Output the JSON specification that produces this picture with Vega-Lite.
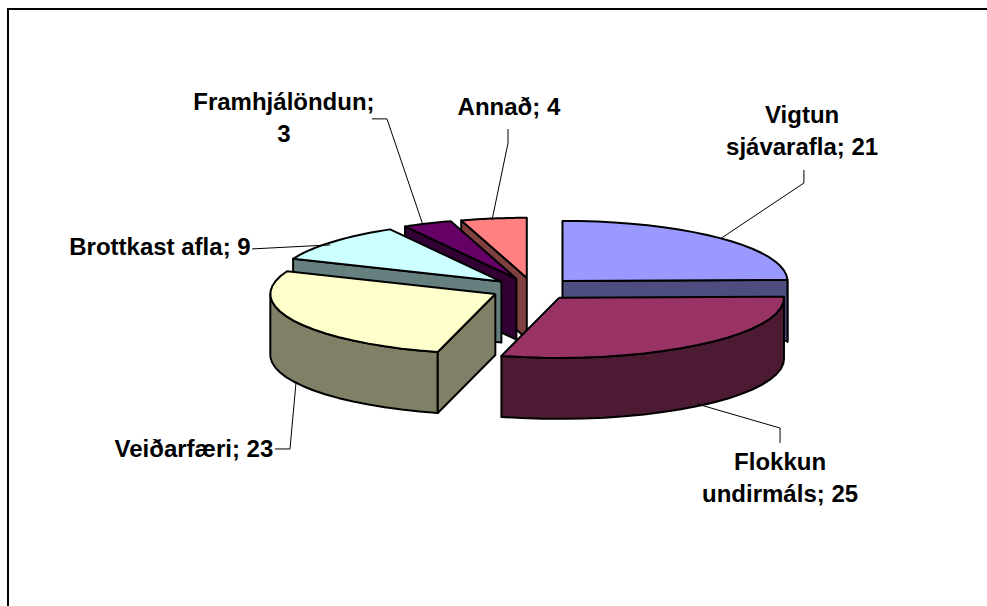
{
"$schema":"https://vega.github.io/schema/vega-lite/v6.json",
"description":"Exploded, tilted pie: slice angles come from the value column; tilt, depth and explosion are constants of the projection into pie-radius units.",
"autosize":{"type":"none"},
"padding":{"left":8,"top":9,"right":0,"bottom":0},
"width":1000,"height":700,
"background":"white",
"view":{"stroke":"black","strokeWidth":2,"fill":"white"},
"datasets":{
"slices":[
{"slice":"Annað","value":4,"clockwise":6},
{"slice":"Framhjálöndun","value":3,"clockwise":5},
{"slice":"Brottkast afla","value":9,"clockwise":4},
{"slice":"Vigtun sjávarafla","value":21,"clockwise":1},
{"slice":"Veiðarfæri","value":23,"clockwise":3},
{"slice":"Flokkun undirmáls","value":25,"clockwise":2}
],
"leaders":[
{"slice":"Vigtun sjávarafla","step":0,"u":1.204,"v":0.529},{"slice":"Vigtun sjávarafla","step":1,"u":1.204,"v":0.471},{"slice":"Vigtun sjávarafla","step":2,"u":0.831,"v":0.222},
{"slice":"Flokkun undirmáls","step":0,"u":1.098,"v":-0.684},{"slice":"Flokkun undirmáls","step":1,"u":1.098,"v":-0.618},{"slice":"Flokkun undirmáls","step":2,"u":0.729,"v":-0.511},
{"slice":"Veiðarfæri","step":0,"u":-1.147,"v":-0.711},{"slice":"Veiðarfæri","step":1,"u":-1.08,"v":-0.711},{"slice":"Veiðarfæri","step":2,"u":-1.053,"v":-0.413},
{"slice":"Brottkast afla","step":0,"u":-1.249,"v":0.178},{"slice":"Brottkast afla","step":1,"u":-0.902,"v":0.196},
{"slice":"Framhjálöndun","step":0,"u":-0.716,"v":0.756},{"slice":"Framhjálöndun","step":1,"u":-0.649,"v":0.756},{"slice":"Framhjálöndun","step":2,"u":-0.489,"v":0.284},
{"slice":"Annað","step":0,"u":-0.111,"v":0.711},{"slice":"Annað","step":1,"u":-0.111,"v":0.649},{"slice":"Annað","step":2,"u":-0.182,"v":0.307}
],
"labels":[
{"text":["Vigtun","sjávarafla; 21"],"u":1.196,"v":0.769},
{"text":["Flokkun","undirmáls; 25"],"u":1.098,"v":-0.773},
{"text":["Veiðarfæri; 23"],"u":-1.507,"v":-0.716},
{"text":["Brottkast afla; 9"],"u":-1.658,"v":0.183},
{"text":["Framhjálöndun;","3"],"u":-1.107,"v":0.827},
{"text":["Annað; 4"],"u":-0.107,"v":0.805}
]
},
"resolve":{"scale":{"x":"shared","y":"shared"}},
"encoding":{
"x":{"field":"u","type":"quantitative","scale":{"domain":[-2.3333,2.1111],"nice":false,"zero":false},"axis":null},
"y":{"field":"v","type":"quantitative","scale":{"domain":[-1.8667,1.2444],"nice":false,"zero":false},"axis":null}
},
"layer":[
{
"data":{"name":"slices"},
"transform":[
{"joinaggregate":[{"op":"sum","field":"value","as":"total"}]},
{"window":[{"op":"sum","field":"value","as":"cum"}],"sort":[{"field":"clockwise","order":"ascending"}],"frame":[null,0]},
{"calculate":"(datum.cum-datum.value)/datum.total*2*PI","as":"a0"},
{"calculate":"datum.cum/datum.total*2*PI","as":"a1"},
{"calculate":"(datum.a0+datum.a1)/2","as":"mid"},
{"calculate":"['rim','start','end','top']","as":"face"},
{"flatten":["face"]},
{"filter":"datum.face=='top'||(datum.face=='rim'&&datum.a0<1.5*PI)||(datum.face=='start'&&sin(datum.a0)<-0.001)||(datum.face=='end'&&sin(datum.a1)>0.001)"},
{"calculate":"sequence(0,43)","as":"i"},
{"flatten":["i"]},
{"filter":"datum.face=='rim'?datum.i<=42:datum.face=='top'?datum.i<=22:datum.i<=4"},
{"calculate":"datum.face=='top'?((datum.i==0||datum.i==22)?0:1):datum.face=='rim'?1:((datum.i==1||datum.i==2)?1:0)","as":"r"},
{"calculate":"datum.face=='start'?0:datum.face=='end'?1:datum.face=='top'?((datum.i==0||datum.i==22)?0:(datum.i-1)/20):(datum.i<=20?datum.i/20:datum.i<=41?(41-datum.i)/20:0)","as":"t"},
{"calculate":"datum.face=='top'?0:datum.face=='rim'?((datum.i>=21&&datum.i<=41)?1:0):((datum.i==2||datum.i==3)?1:0)","as":"z"},
{"calculate":"datum.a0+datum.t*(datum.a1-datum.a0)","as":"a"},
{"calculate":"datum.face=='rim'?clamp(datum.a,0.5*PI,1.5*PI):datum.a","as":"a"},
{"calculate":"0.187*sin(datum.mid)+datum.r*sin(datum.a)","as":"u"},
{"calculate":"0.187*0.267*cos(datum.mid)+0.267*datum.r*cos(datum.a)-0.271*datum.z","as":"v"},
{"calculate":"datum.slice+(datum.face=='top'?' top':' side')","as":"paint"}
],
"mark":{"type":"line","stroke":"black","strokeWidth":2,"strokeJoin":"round","interpolate":"linear"},
"encoding":{
"fill":{"field":"paint","type":"nominal","legend":null,"scale":{
"domain":["Vigtun sjávarafla top","Vigtun sjávarafla side","Flokkun undirmáls top","Flokkun undirmáls side","Veiðarfæri top","Veiðarfæri side","Brottkast afla top","Brottkast afla side","Framhjálöndun top","Framhjálöndun side","Annað top","Annað side"],
"range":["#9999ff","#4d4d80","#993366","#4d1a33","#ffffcc","#808066","#ccffff","#668080","#660066","#330033","#ff8080","#804040"]}},
"detail":{"field":"face"},
"order":{"field":"i","type":"quantitative"}
}
},
{
"data":{"name":"leaders"},
"mark":{"type":"line","stroke":"black","strokeWidth":1},
"encoding":{
"detail":{"field":"slice"},
"order":{"field":"step","type":"quantitative"}
}
},
{
"data":{"name":"labels"},
"mark":{"type":"text","font":"Liberation Sans","fontWeight":"bold","fontSize":24,"lineHeight":32,"align":"center","baseline":"middle","color":"black"},
"encoding":{
"text":{"field":"text"}
}
}
]
}
